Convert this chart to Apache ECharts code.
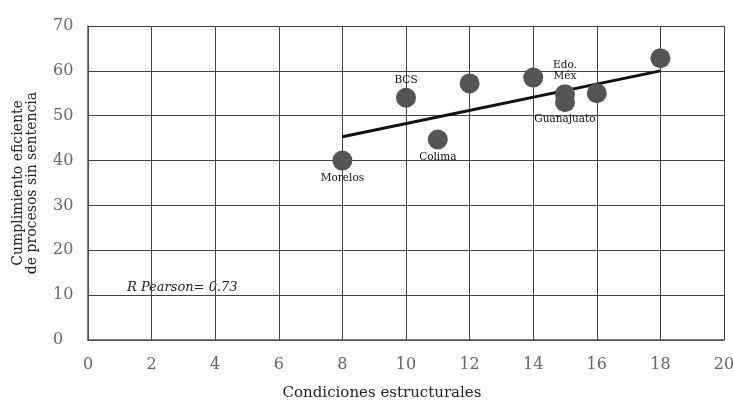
<!DOCTYPE html>
<html>
<head>
<meta charset="utf-8">
<script src="https://cdn.jsdelivr.net/npm/echarts@6/dist/echarts.min.js"></script>
<style>html,body{margin:0;padding:0;background:#fff}#c{width:733px;height:401px}</style>
</head>
<body>
<div id="c"></div>
<script>
// Data
var xValues = [8, 10, 11, 12, 14, 15, 15, 16, 18];
var yValues = [40, 54, 44.7, 57.2, 58.5, 54.8, 53, 55, 62.8];
var pointLabels = ['Morelos', 'BCS', 'Colima', '', '', 'Edo.\nMéx', 'Guanajuato', '', ''];
var trendX = [8, 18];
var trendY = [45.3, 60];
var xTicks = [0, 2, 4, 6, 8, 10, 12, 14, 16, 18, 20];
var yTicks = [0, 10, 20, 30, 40, 50, 60, 70];
var xTitle = 'Condiciones estructurales';
var yTitle = 'Cumplimiento eficiente\nde procesos sin sentencia';
var noteText = 'R Pearson= 0.73';

var labelAbove = {'BCS': true, 'Edo.\nMéx': true};
var FONT = 'DejaVu Serif';

var scatterData = xValues.map(function (x, i) {
  var lbl = pointLabels[i];
  return {
    value: [x, yValues[i]],
    name: lbl,
    label: {
      show: lbl !== '',
      position: labelAbove[lbl] ? 'top' : 'bottom',
      distance: 2,
      formatter: lbl,
      fontFamily: FONT,
      fontSize: 10.5,
      lineHeight: 11,
      color: '#111'
    }
  };
});
var trendData = trendX.map(function (x, i) { return [x, trendY[i]]; });

var chart = echarts.init(document.getElementById('c'), null, {renderer: 'canvas'});
chart.setOption({
  animation: false,
  backgroundColor: '#fff',
  grid: {left: 88, right: 9, top: 26, bottom: 61, outerBoundsMode: 'none', containLabel: false},
  xAxis: {
    type: 'value', min: xTicks[0], max: xTicks[xTicks.length - 1], interval: 2,
    name: xTitle, nameLocation: 'middle', nameGap: 46,
    nameTextStyle: {fontFamily: FONT, fontSize: 15, color: '#222', padding: [0, 48, 0, 0]},
    axisLine: {show: true, lineStyle: {color: '#555', width: 1.5}},
    axisTick: {show: false},
    axisLabel: {fontFamily: FONT, fontSize: 16, color: '#666', margin: 17},
    splitLine: {show: true, lineStyle: {color: '#444', width: 1}}
  },
  yAxis: {
    type: 'value', min: yTicks[0], max: yTicks[yTicks.length - 1], interval: 10,
    name: yTitle, nameLocation: 'middle', nameRotate: 90, nameGap: 49,
    nameTextStyle: {fontFamily: FONT, fontSize: 14, lineHeight: 14, color: '#222'},
    axisLine: {show: true, lineStyle: {color: '#555', width: 1.5}},
    axisTick: {show: false},
    axisLabel: {fontFamily: FONT, fontSize: 16, color: '#666', margin: 35, align: 'left', padding: [0, 0, 11, 0]},
    splitLine: {show: true, lineStyle: {color: '#444', width: 1}}
  },
  graphic: [{
    type: 'text', left: 127, top: 281,
    style: {text: noteText, fontFamily: FONT, fontStyle: 'italic', fontSize: 13, fill: '#222'}
  }],
  series: [
    {
      type: 'line', data: trendData, symbol: 'none', z: 3,
      lineStyle: {color: '#111', width: 3}
    },
    {
      type: 'scatter', data: scatterData, symbolSize: 20, z: 4,
      itemStyle: {color: '#555', opacity: 1}
    }
  ]
});
</script>
</body>
</html>
